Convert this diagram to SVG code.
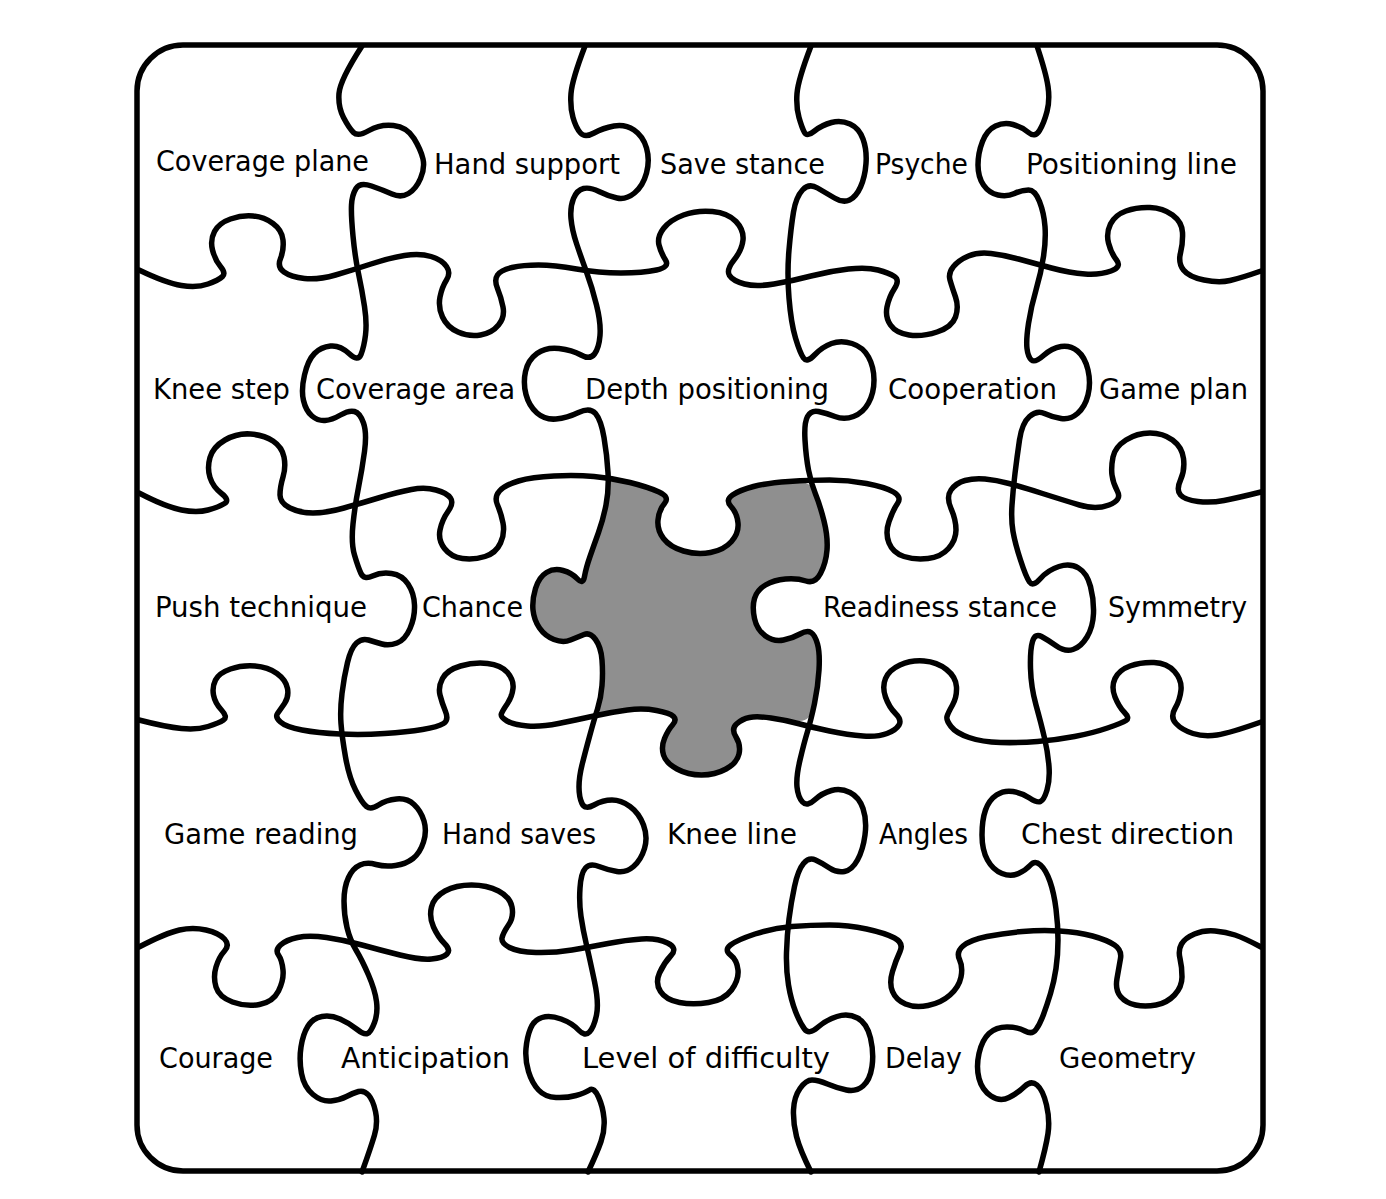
<svg xmlns="http://www.w3.org/2000/svg" width="1386" height="1199" viewBox="0 0 1386 1199">
<style>
.cut{fill:none;stroke:#000;stroke-width:5.5;stroke-linecap:round;stroke-linejoin:round}
.lbl{font-family:"DejaVu Sans Condensed","DejaVu Sans",sans-serif;font-stretch:condensed;font-size:29px;fill:#000}
</style>
<rect width="1386" height="1199" fill="#fff"/>
<g id="piece-r3c3">
<path fill="#8f8f8f" d="M608.5,483.5 Q608,477 619,479.5 Q630,482 639,484.5 Q648,487 659,492 Q670,497 664.5,503.5 Q659,510 658,520 Q657,530 663.5,538.5 Q670,547 683.5,551 Q697,555 710.5,552.5 Q724,550 731.5,541.5 Q739,533 738,523 Q737,513 731,506.5 Q725,500 732.5,495 Q740,490 753.5,486.5 Q767,483 789,481.5 Q811,480 815.5,492.5 Q820,505 824,521 Q828,537 827,550 Q826,563 820.5,573.5 Q815,584 806,581 Q797,578 785.5,579 Q774,580 765.5,585 Q757,590 754.5,598.5 Q752,607 754.5,618.5 Q757,630 765.5,636 Q774,642 783.5,640 Q793,638 800,634 Q807,630 811,632.5 Q815,635 817.5,644 Q820,653 819,670 Q818,687 814.5,704.5 Q811,722 798,721 Q785,720 771,718 Q757,716 749.5,717.5 Q742,719 736.5,724 Q731,729 736,737 Q741,745 739,754 Q737,763 726,769 Q715,775 701.5,775 Q688,775 677,769 Q666,763 663.5,755 Q661,747 664.5,738.5 Q668,730 672.5,725 Q677,720 673.5,716.5 Q670,713 656.5,710.5 Q643,708 627.5,710 Q612,712 605,714 Q598,716 599.5,707 Q601,698 602,685.5 Q603,673 602,660 Q601,647 595.5,639.5 Q590,632 584,634.5 Q578,637 570.5,640 Q563,643 554,639.5 Q545,636 539.5,628 Q534,620 533,610 Q532,600 535.5,588.5 Q539,577 546.5,572.5 Q554,568 563,570.5 Q572,573 577.5,579 Q583,585 584.5,576.5 Q586,568 590,556.5 Q594,545 598.5,532.5 Q603,520 606,505 Q609,490 608.5,483.5 Z"/>
</g>
<g id="connectors">
<rect class="cut" x="137" y="45" width="1126" height="1126" rx="46" ry="46"/>
<path id="v1" class="cut" d="M362,46 Q340,80 339,93.5 Q338,107 343.5,117.5 Q349,128 353.5,132.5 Q358,137 369,130.5 Q380,124 393.5,125.5 Q407,127 414,138.5 Q421,150 423,159 Q425,168 420.5,178.5 Q416,189 408.5,193.5 Q401,198 392,194 Q383,190 371.5,186 Q360,182 356,188.5 Q352,195 351.5,205 Q351,215 353,236 Q355,257 358.5,273.5 Q362,290 364.5,306.5 Q367,323 365.5,335 Q364,347 361,354.5 Q358,362 349,353.5 Q340,345 330.5,346 Q321,347 314.5,353.5 Q308,360 304.5,375 Q301,390 303.5,400.5 Q306,411 312,416 Q318,421 325,420.5 Q332,420 340.5,415 Q349,410 354.5,411.5 Q360,413 363.5,423 Q367,433 364.5,451.5 Q362,470 358.5,487.5 Q355,505 353,524 Q351,543 354.5,555 Q358,567 361,573.5 Q364,580 372.5,576 Q381,572 391.5,573.5 Q402,575 408,584 Q414,593 414.5,605 Q415,617 410,628.5 Q405,640 397,643 Q389,646 382,644 Q375,642 368.5,640 Q362,638 356.5,643 Q351,648 347.5,662.5 Q344,677 342,693.5 Q340,710 341,723.5 Q342,737 345.5,757 Q349,777 355.5,790 Q362,803 366.5,806.5 Q371,810 378.5,805 Q386,800 396.5,799 Q407,798 414,804.5 Q421,811 424,821 Q427,831 423.5,842 Q420,853 413,858.5 Q406,864 395.5,865.5 Q385,867 376,864.5 Q367,862 360,865 Q353,868 348.5,877.5 Q344,887 344,901 Q344,915 347,927.5 Q350,940 356,950 Q362,960 368.5,975 Q375,990 376.5,1001.5 Q378,1013 374.5,1022.5 Q371,1032 367.5,1033.5 Q364,1035 356.5,1029 Q349,1023 340,1019 Q331,1015 322,1016.5 Q313,1018 308,1026 Q303,1034 301,1047 Q299,1060 301.5,1073.5 Q304,1087 313,1094.5 Q322,1102 331,1101 Q340,1100 346.5,1096.5 Q353,1093 358.5,1091.5 Q364,1090 368.5,1095 Q373,1100 375.5,1111.5 Q378,1123 374.5,1135 Q371,1147 362,1172"/>
<path id="v2" class="cut" d="M585,46 Q572,80 571,93.5 Q570,107 573,117.5 Q576,128 580.5,133 Q585,138 594,133 Q603,128 614,126 Q625,124 634,130 Q643,136 646.5,148 Q650,160 646.5,173 Q643,186 634.5,193 Q626,200 617,198 Q608,196 599,191.5 Q590,187 583.5,188.5 Q577,190 573.5,198.5 Q570,207 571,218.5 Q572,230 576.5,243.5 Q581,257 586.5,272 Q592,287 596.5,305 Q601,323 600,335.5 Q599,348 594.5,354 Q590,360 581,355 Q572,350 559,348.5 Q546,347 537,353.5 Q528,360 525.5,371.5 Q523,383 526,394.5 Q529,406 537,413 Q545,420 556,419 Q567,418 578.5,412.5 Q590,407 595.5,413.5 Q601,420 604,437.5 Q607,455 608,472.5 Q609,490 606,505 Q603,520 598.5,532.5 Q594,545 590,556.5 Q586,568 584.5,576.5 Q583,585 577.5,579 Q572,573 563,570.5 Q554,568 546.5,572.5 Q539,577 535.5,588.5 Q532,600 533,610 Q534,620 539.5,628 Q545,636 554,639.5 Q563,643 570.5,640 Q578,637 584,634.5 Q590,632 595.5,639.5 Q601,647 602,660 Q603,673 602,685.5 Q601,698 597.5,709 Q594,720 589.5,736.5 Q585,753 582,765 Q579,777 579,787 Q579,797 582,803.5 Q585,810 594,805 Q603,800 612,800 Q621,800 630,806.5 Q639,813 643.5,825 Q648,837 644.5,848.5 Q641,860 633.5,866.5 Q626,873 617,871.5 Q608,870 599,866.5 Q590,863 585.5,868 Q581,873 580,888 Q579,903 581,916.5 Q583,930 586.5,945 Q590,960 594.5,981.5 Q599,1003 596.5,1015 Q594,1027 589.5,1032 Q585,1037 578.5,1030 Q572,1023 561,1019 Q550,1015 542,1017.5 Q534,1020 530.5,1028.5 Q527,1037 526,1048.5 Q525,1060 528.5,1071.5 Q532,1083 538.5,1090 Q545,1097 556,1097.5 Q567,1098 576,1095.5 Q585,1093 589.5,1090 Q594,1087 598.5,1097 Q603,1107 604,1118.5 Q605,1130 601,1141.5 Q597,1153 588,1172"/>
<path id="v3" class="cut" d="M811,46 Q798,80 797,93.5 Q796,107 799,117.5 Q802,128 804.5,132.5 Q807,137 814.5,131 Q822,125 831.5,122.5 Q841,120 850,124 Q859,128 863,139 Q867,150 866,163.5 Q865,177 860.5,187 Q856,197 849.5,200 Q843,203 834.5,198 Q826,193 817.5,188 Q809,183 802.5,190 Q796,197 793.5,212 Q791,227 789,250 Q787,273 789,298 Q791,323 795.5,338 Q800,353 803.5,358 Q807,363 814.5,355 Q822,347 831.5,343.5 Q841,340 852,343.5 Q863,347 868.5,357 Q874,367 874,380 Q874,393 868.5,403 Q863,413 853.5,416.5 Q844,420 835,416.5 Q826,413 818.5,411.5 Q811,410 807.5,416.5 Q804,423 805,440 Q806,457 808.5,470 Q811,483 815.5,494 Q820,505 824,521 Q828,537 827,550 Q826,563 820.5,573.5 Q815,584 806,581 Q797,578 785.5,579 Q774,580 765.5,585 Q757,590 754.5,598.5 Q752,607 754.5,618.5 Q757,630 765.5,636 Q774,642 783.5,640 Q793,638 800,634 Q807,630 811,632.5 Q815,635 817.5,644 Q820,653 819,670 Q818,687 814.5,703.5 Q811,720 807.5,731.5 Q804,743 800,760 Q796,777 797,787 Q798,797 802.5,802 Q807,807 814.5,800 Q822,793 831.5,790.5 Q841,788 850,792.5 Q859,797 863,808.5 Q867,820 865,835 Q863,850 857.5,860 Q852,870 844.5,871.5 Q837,873 829.5,868 Q822,863 815.5,860 Q809,857 803.5,863.5 Q798,870 794.5,886.5 Q791,903 789,919 Q787,935 786.5,952.5 Q786,970 788.5,985 Q791,1000 795.5,1011.5 Q800,1023 804.5,1029 Q809,1035 817.5,1027.5 Q826,1020 837,1016.5 Q848,1013 857.5,1018 Q867,1023 870.5,1038 Q874,1053 872,1066.5 Q870,1080 863,1086 Q856,1092 846.5,1090 Q837,1088 827.5,1084 Q818,1080 812,1080 Q806,1080 800,1088.5 Q794,1097 793.5,1110 Q793,1123 796.5,1136.5 Q800,1150 811,1172"/>
<path id="v4" class="cut" d="M1037,46 Q1046,73 1048,86.5 Q1050,100 1047,111.5 Q1044,123 1039.5,130.5 Q1035,138 1028.5,132.5 Q1022,127 1013,124.5 Q1004,122 995.5,126 Q987,130 982.5,141.5 Q978,153 978,165 Q978,177 983.5,185 Q989,193 998,195 Q1007,197 1014.5,193.5 Q1022,190 1028.5,190 Q1035,190 1039.5,201.5 Q1044,213 1045,226.5 Q1046,240 1043.5,256.5 Q1041,273 1036,290 Q1031,307 1028.5,323.5 Q1026,340 1027,348.5 Q1028,357 1031.5,360 Q1035,363 1043.5,355.5 Q1052,348 1061,346.5 Q1070,345 1077.5,351 Q1085,357 1088,370 Q1091,383 1088,395 Q1085,407 1077.5,413.5 Q1070,420 1061,418.5 Q1052,417 1044.5,413.5 Q1037,410 1029.5,416.5 Q1022,423 1019.5,440 Q1017,457 1015,473.5 Q1013,490 1012,505 Q1011,520 1013,531.5 Q1015,543 1020.5,560 Q1026,577 1029.5,582 Q1033,587 1040.5,578.5 Q1048,570 1059,566.5 Q1070,563 1078.5,568 Q1087,573 1090.5,586.5 Q1094,600 1093.5,613.5 Q1093,627 1087,637 Q1081,647 1073,649.5 Q1065,652 1056.5,646 Q1048,640 1041.5,636.5 Q1035,633 1032.5,641.5 Q1030,650 1030.5,668.5 Q1031,687 1036,705 Q1041,723 1044.5,738 Q1048,753 1049,766.5 Q1050,780 1047,790 Q1044,800 1040.5,801.5 Q1037,803 1029.5,798 Q1022,793 1013,791.5 Q1004,790 996.5,795 Q989,800 985.5,810 Q982,820 982,835 Q982,850 987.5,860 Q993,870 1002,873.5 Q1011,877 1018.5,873.5 Q1026,870 1030.5,865 Q1035,860 1040.5,865 Q1046,870 1050,881.5 Q1054,893 1056,909 Q1058,925 1058,940 Q1058,955 1056,968.5 Q1054,982 1050.5,993.5 Q1047,1005 1043.5,1014.5 Q1040,1024 1036,1029.5 Q1032,1035 1025,1031 Q1018,1027 1007,1027 Q996,1027 989,1033.5 Q982,1040 979,1053.5 Q976,1067 979,1078.5 Q982,1090 991,1096 Q1000,1102 1009,1097.5 Q1018,1093 1024.5,1086.5 Q1031,1080 1037,1085 Q1043,1090 1046.5,1105 Q1050,1120 1048,1133.5 Q1046,1147 1039,1172"/>
<path id="h1" class="cut" d="M139,270 Q166,283 181.5,285.5 Q197,288 208,284 Q219,280 222.5,276.5 Q226,273 220.5,266.5 Q215,260 212.5,250 Q210,240 214.5,231.5 Q219,223 230.5,219 Q242,215 253,216 Q264,217 273,223.5 Q282,230 283,240 Q284,250 280.5,258.5 Q277,267 284,272 Q291,277 304.5,278.5 Q318,280 335.5,275 Q353,270 371,264 Q389,258 404.5,255.5 Q420,253 431,256.5 Q442,260 446.5,266.5 Q451,273 446.5,280 Q442,287 440,297 Q438,307 442.5,317 Q447,327 458,332 Q469,337 480.5,335 Q492,333 498.5,325 Q505,317 503,307 Q501,297 497.5,288.5 Q494,280 497.5,275 Q501,270 512,267.5 Q523,265 538.5,265 Q554,265 576.5,269 Q599,273 621,273 Q643,273 656.5,270 Q670,267 665.5,260 Q661,253 659,245 Q657,237 663.5,228.5 Q670,220 683.5,215 Q697,210 712.5,211.5 Q728,213 736,221.5 Q744,230 743,240 Q742,250 734,260 Q726,270 729.5,275.5 Q733,281 744.5,284 Q756,287 774,284 Q792,281 811,276 Q830,271 848.5,269 Q867,267 878,270 Q889,273 894.5,276.5 Q900,280 894.5,288.5 Q889,297 887,307 Q885,317 890.5,325 Q896,333 909,335 Q922,337 937,332 Q952,327 955.5,317 Q959,307 955.5,297 Q952,287 950,280 Q948,273 953.5,266.5 Q959,260 968.5,256 Q978,252 991,253.5 Q1004,255 1018.5,259 Q1033,263 1051.5,268 Q1070,273 1085,274 Q1100,275 1111,271 Q1122,267 1116.5,260 Q1111,253 1108.5,243 Q1106,233 1110.5,224 Q1115,215 1126,211 Q1137,207 1150,207.5 Q1163,208 1172.5,215 Q1182,222 1182.5,232.5 Q1183,243 1180.5,253 Q1178,263 1183.5,270 Q1189,277 1204,280 Q1219,283 1230,280.5 Q1241,278 1261,271"/>
<path id="h2" class="cut" d="M139,493 Q166,507 181.5,510 Q197,513 208,510 Q219,507 224.5,503.5 Q230,500 221.5,493.5 Q213,487 210,477.5 Q207,468 210,457.5 Q213,447 225,440 Q237,433 250.5,434 Q264,435 273,441 Q282,447 284,457 Q286,467 283,477 Q280,487 280,495 Q280,503 290,508 Q300,513 313,513 Q326,513 344,508 Q362,503 380,497.5 Q398,492 411.5,489.5 Q425,487 436,490 Q447,493 450.5,498 Q454,503 448,511.5 Q442,520 440,530 Q438,540 444.5,548.5 Q451,557 462.5,558.5 Q474,560 485,556.5 Q496,553 500.5,543 Q505,533 503,523 Q501,513 497.5,505 Q494,497 499.5,491 Q505,485 518.5,481 Q532,477 554,476 Q576,475 594,476.5 Q612,478 630,482.5 Q648,487 659,492 Q670,497 664.5,503.5 Q659,510 658,520 Q657,530 663.5,538.5 Q670,547 683.5,551 Q697,555 710.5,552.5 Q724,550 731.5,541.5 Q739,533 738,523 Q737,513 731,506.5 Q725,500 732.5,495 Q740,490 753.5,486.5 Q767,483 789,481.5 Q811,480 829.5,480 Q848,480 866.5,483.5 Q885,487 893.5,492 Q902,497 897.5,503.5 Q893,510 889,521.5 Q885,533 889,543 Q893,553 904,556.5 Q915,560 928,558.5 Q941,557 948.5,548.5 Q956,540 956,530 Q956,520 951,508.5 Q946,497 951,490 Q956,483 965,480.5 Q974,478 985,479 Q996,480 1009,483.5 Q1022,487 1042.5,493.5 Q1063,500 1079.5,505 Q1096,510 1109,505 Q1122,500 1117.5,491.5 Q1113,483 1112,475 Q1111,467 1113,457 Q1115,447 1126,440 Q1137,433 1150,433 Q1163,433 1172.5,440 Q1182,447 1183.5,458.5 Q1185,470 1180.5,480 Q1176,490 1180.5,495 Q1185,500 1198,501.5 Q1211,503 1224,500.5 Q1237,498 1261,492"/>
<path id="h3" class="cut" d="M139,720 Q166,727 181.5,728.5 Q197,730 208,726.5 Q219,723 223.5,720 Q228,717 221.5,710 Q215,703 213.5,695 Q212,687 215.5,680 Q219,673 230.5,669 Q242,665 255,666 Q268,667 277,673.5 Q286,680 287.5,688.5 Q289,697 284.5,703.5 Q280,710 277.5,713.5 Q275,717 280.5,722 Q286,727 302,730 Q318,733 340,734 Q362,735 384.5,733.5 Q407,732 422.5,729.5 Q438,727 443.5,723.5 Q449,720 445.5,711.5 Q442,703 440,695 Q438,687 442.5,678.5 Q447,670 460.5,666 Q474,662 487.5,663.5 Q501,665 507.5,672.5 Q514,680 513,688.5 Q512,697 507.5,703.5 Q503,710 501.5,713.5 Q500,717 507,721 Q514,725 527.5,726 Q541,727 558.5,723.5 Q576,720 594,716 Q612,712 627.5,710 Q643,708 656.5,710.5 Q670,713 673.5,716.5 Q677,720 672.5,725 Q668,730 664.5,738.5 Q661,747 663.5,755 Q666,763 677,769 Q688,775 701.5,775 Q715,775 726,769 Q737,763 739,754 Q741,745 736,737 Q731,729 736.5,724 Q742,719 749.5,717.5 Q757,716 771,718 Q785,720 798,723.5 Q811,727 829.5,731 Q848,735 863,736 Q878,737 887,733.5 Q896,730 899,725 Q902,720 895.5,713.5 Q889,707 885.5,697 Q882,687 885.5,678.5 Q889,670 900,665 Q911,660 924,661 Q937,662 946.5,669.5 Q956,677 956.5,687 Q957,697 952.5,705 Q948,713 947,716.5 Q946,720 951,726.5 Q956,733 969,737.5 Q982,742 1000.5,742.5 Q1019,743 1037.5,741.5 Q1056,740 1074.5,736.5 Q1093,733 1107.5,728 Q1122,723 1126,720.5 Q1130,718 1124.5,712.5 Q1119,707 1115,697 Q1111,687 1115,678.5 Q1119,670 1130,666 Q1141,662 1154,662.5 Q1167,663 1174.5,671.5 Q1182,680 1181,690 Q1180,700 1175,708.5 Q1170,717 1176,723.5 Q1182,730 1193,733.5 Q1204,737 1217,735 Q1230,733 1261,722"/>
<path id="h4" class="cut" d="M139,947 Q166,933 179.5,930 Q193,927 206,930 Q219,933 224.5,939 Q230,945 224.5,951 Q219,957 216,967 Q213,977 216,987 Q219,997 232.5,1002 Q246,1007 259.5,1004.5 Q273,1002 278.5,991 Q284,980 283,970 Q282,960 278.5,955 Q275,950 280.5,945 Q286,940 297.5,937.5 Q309,935 326.5,937.5 Q344,940 362,945 Q380,950 400,955 Q420,960 431.5,959 Q443,958 447,954 Q451,950 444.5,943.5 Q438,937 433.5,927 Q429,917 431.5,907 Q434,897 445,891 Q456,885 471.5,885 Q487,885 498.5,891 Q510,897 512,907 Q514,917 508.5,925 Q503,933 502,938 Q501,943 509.5,947.5 Q518,952 536,952.5 Q554,953 572,950 Q590,947 608,943.5 Q626,940 641.5,939 Q657,938 667.5,943 Q678,948 671,955.5 Q664,963 659.5,973 Q655,983 660.5,991.5 Q666,1000 679.5,1002.5 Q693,1005 708.5,1002.5 Q724,1000 731.5,990 Q739,980 738,970 Q737,960 730.5,955 Q724,950 730.5,945 Q737,940 755,934 Q773,928 792,926.5 Q811,925 829.5,925 Q848,925 866.5,929 Q885,933 894.5,938 Q904,943 900,951.5 Q896,960 892.5,971.5 Q889,983 892.5,991.5 Q896,1000 905.5,1004 Q915,1008 928,1005.5 Q941,1003 950,995 Q959,987 961,977 Q963,967 959.5,959.5 Q956,952 963,946 Q970,940 987,936.5 Q1004,933 1022.5,931.5 Q1041,930 1059.5,931 Q1078,932 1092.5,936 Q1107,940 1114.5,945 Q1122,950 1120.5,958.5 Q1119,967 1117,978.5 Q1115,990 1120.5,996.5 Q1126,1003 1135.5,1005 Q1145,1007 1156,1005 Q1167,1003 1174.5,995 Q1182,987 1182,977 Q1182,967 1180,958.5 Q1178,950 1181.5,944 Q1185,938 1194.5,934 Q1204,930 1215,931 Q1226,932 1235,935 Q1244,938 1261,947"/>
</g>
<g id="piece-r1c1"><text class="lbl" x="156" y="171" textLength="213" lengthAdjust="spacingAndGlyphs">Coverage plane</text></g>
<g id="piece-r1c2"><text class="lbl" x="434" y="174" textLength="186" lengthAdjust="spacingAndGlyphs">Hand support</text></g>
<g id="piece-r1c3"><text class="lbl" x="660" y="174" textLength="165" lengthAdjust="spacingAndGlyphs">Save stance</text></g>
<g id="piece-r1c4"><text class="lbl" x="875" y="174" textLength="93" lengthAdjust="spacingAndGlyphs">Psyche</text></g>
<g id="piece-r1c5"><text class="lbl" x="1026" y="174" textLength="211" lengthAdjust="spacingAndGlyphs">Positioning line</text></g>
<g id="piece-r2c1"><text class="lbl" x="153" y="399" textLength="137" lengthAdjust="spacingAndGlyphs">Knee step</text></g>
<g id="piece-r2c2"><text class="lbl" x="316" y="399" textLength="199" lengthAdjust="spacingAndGlyphs">Coverage area</text></g>
<g id="piece-r2c3"><text class="lbl" x="585" y="399" textLength="244" lengthAdjust="spacingAndGlyphs">Depth positioning</text></g>
<g id="piece-r2c4"><text class="lbl" x="888" y="399" textLength="169" lengthAdjust="spacingAndGlyphs">Cooperation</text></g>
<g id="piece-r2c5"><text class="lbl" x="1099" y="399" textLength="149" lengthAdjust="spacingAndGlyphs">Game plan</text></g>
<g id="piece-r3c1"><text class="lbl" x="155" y="617" textLength="212" lengthAdjust="spacingAndGlyphs">Push technique</text></g>
<g id="piece-r3c2"><text class="lbl" x="422" y="617" textLength="101" lengthAdjust="spacingAndGlyphs">Chance</text></g>
<g id="piece-r3c4"><text class="lbl" x="823" y="617" textLength="234" lengthAdjust="spacingAndGlyphs">Readiness stance</text></g>
<g id="piece-r3c5"><text class="lbl" x="1108" y="617" textLength="139" lengthAdjust="spacingAndGlyphs">Symmetry</text></g>
<g id="piece-r4c1"><text class="lbl" x="164" y="844" textLength="194" lengthAdjust="spacingAndGlyphs">Game reading</text></g>
<g id="piece-r4c2"><text class="lbl" x="442" y="844" textLength="154" lengthAdjust="spacingAndGlyphs">Hand saves</text></g>
<g id="piece-r4c3"><text class="lbl" x="667" y="844" textLength="130" lengthAdjust="spacingAndGlyphs">Knee line</text></g>
<g id="piece-r4c4"><text class="lbl" x="879" y="844" textLength="89" lengthAdjust="spacingAndGlyphs">Angles</text></g>
<g id="piece-r4c5"><text class="lbl" x="1021" y="844" textLength="213" lengthAdjust="spacingAndGlyphs">Chest direction</text></g>
<g id="piece-r5c1"><text class="lbl" x="159" y="1068" textLength="114" lengthAdjust="spacingAndGlyphs">Courage</text></g>
<g id="piece-r5c2"><text class="lbl" x="341" y="1068" textLength="169" lengthAdjust="spacingAndGlyphs">Anticipation</text></g>
<g id="piece-r5c3"><text class="lbl" x="582" y="1068" textLength="248" lengthAdjust="spacingAndGlyphs">Level of difficulty</text></g>
<g id="piece-r5c4"><text class="lbl" x="885" y="1068" textLength="77" lengthAdjust="spacingAndGlyphs">Delay</text></g>
<g id="piece-r5c5"><text class="lbl" x="1059" y="1068" textLength="137" lengthAdjust="spacingAndGlyphs">Geometry</text></g>
</svg>
